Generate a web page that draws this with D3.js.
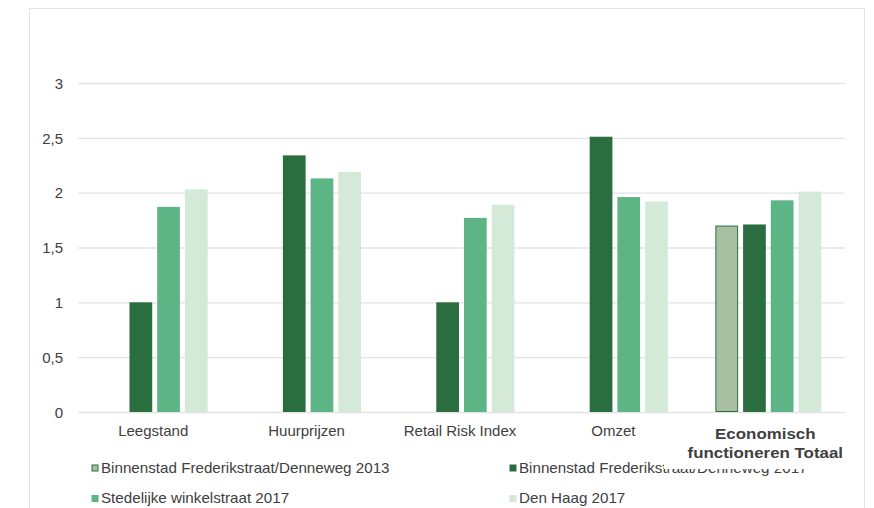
<!DOCTYPE html>
<html>
<head>
<meta charset="utf-8">
<script src="https://cdn.jsdelivr.net/npm/d3@7"></script>
<style>
  body { margin: 0; background: #fff; }
  text { font-family: "Liberation Sans", Arial, sans-serif; fill: #404040; }
</style>
</head>
<body>
<div id="renderer"></div>
<script>
// chart data
var categories = ['Leegstand', 'Huurprijzen', 'Retail Risk Index', 'Omzet', 'Economisch functioneren Totaal'];
var seriesNames = [
    'Binnenstad Frederikstraat/Denneweg 2013',
    'Binnenstad Frederikstraat/Denneweg 2017',
    'Stedelijke winkelstraat 2017',
    'Den Haag 2017'
];
var values2013 = [null, null, null, null, 1.70];
var valuesBinnen2017 = [1.0, 2.34, 1.0, 2.51, 1.71];
var valuesStedelijk2017 = [1.87, 2.13, 1.77, 1.96, 1.93];
var valuesDenHaag2017 = [2.03, 2.19, 1.89, 1.92, 2.01];
var yTicks = [0, 0.5, 1, 1.5, 2, 2.5, 3];

var allValues = [values2013, valuesBinnen2017, valuesStedelijk2017, valuesDenHaag2017];
var colors = ['#a8bfa2', '#2a6e3f', '#5db585', '#d4e9d8'];

var W = 874, H = 508;
var root = d3.select('#renderer').append('svg')
    .attr('width', W)
    .attr('height', H);

// text helper, the original looks a bit stretched sideways
function addText(x, y, str, size, anchor, sx, weight){
    return root.append('text')
        .attr('transform', 'translate(' + x + ',' + y + ') scale(' + sx + ',1)')
        .attr('text-anchor', anchor)
        .attr('font-size', size + 'px')
        .attr('font-weight', weight || 'normal')
        .text(str);
}

// chart border
root.append('rect')
    .attr('x', 29.5).attr('y', 8.5)
    .attr('width', 835).attr('height', 520)
    .attr('fill', 'none')
    .attr('stroke', '#e3e3e3')
    .attr('stroke-width', 1);

var plotLeft = 78, plotRight = 845, plotTop = 83, plotBottom = 412;

var y = d3.scaleLinear().domain([0, 3]).range([plotBottom, plotTop]);
var x0 = d3.scaleBand().domain(categories).range([plotLeft, plotRight])
    .paddingInner(0.31).paddingOuter(0.155);
var x1 = d3.scaleBand().domain(d3.range(seriesNames.length)).range([0, x0.bandwidth()])
    .paddingInner(0.18);

// gridlines + y labels
var yAxis = d3.axisLeft(y).tickValues(yTicks)
    .tickSize(-(plotRight - plotLeft))
    .tickPadding(15)
    .tickFormat(function(d){ return String(d).replace('.', ','); });

var gy = root.append('g').attr('transform', 'translate(' + plotLeft + ',0)').call(yAxis);
gy.select('.domain').remove();
gy.selectAll('line').attr('stroke', '#e3e3e3').attr('stroke-width', 1.3);
gy.selectAll('text').attr('font-size', '15px').attr('fill', '#404040')
    .attr('dy', '0.35em')
    .style('font-family', '"Liberation Sans", Arial, sans-serif');

// bars
for (var s = 0; s < allValues.length; s++) {
    for (var i = 0; i < categories.length; i++) {
        var v = allValues[s][i];
        if (v === null) continue;
        var r = root.append('rect')
            .attr('x', x0(categories[i]) + x1(s))
            .attr('y', y(v))
            .attr('width', x1.bandwidth())
            .attr('height', y(0) - y(v))
            .attr('fill', colors[s]);
        if (s === 0) {
            r.attr('stroke', '#2a6e3f').attr('stroke-width', 1)
                .attr('x', x0(categories[i]) + x1(s) + 0.5)
                .attr('y', y(v) + 0.5)
                .attr('width', x1.bandwidth() - 1)
                .attr('height', y(0) - y(v) - 1);
        }
    }
}

// legend (drawn before the bold label, which covers part of it)
var legendPos = [[91.5, 472.5], [509.5, 472.5], [91.5, 503], [509.5, 503]];
for (var k = 0; k < seriesNames.length; k++) {
    var lx = legendPos[k][0], ly = legendPos[k][1];
    var sq = root.append('rect')
        .attr('x', lx).attr('y', ly - 8)
        .attr('width', 7).attr('height', 7)
        .attr('fill', colors[k]);
    if (k === 0) sq.attr('stroke', '#2a6e3f').attr('stroke-width', 1)
        .attr('x', lx + 0.5).attr('y', ly - 7.5).attr('width', 6).attr('height', 6);
    addText(lx + 9.5, ly, seriesNames[k], 14, 'start', 1.085);
}

// x labels
for (var c = 0; c < categories.length - 1; c++) {
    addText(x0(categories[c]) + x0.bandwidth() / 2 - 1.5, 436, categories[c], 15, 'middle', 1);
}

root.append('rect')
    .attr('x', 664).attr('y', 418)
    .attr('width', 199).attr('height', 51)
    .attr('fill', '#fff');
var lastX = x0(categories[4]) + x0.bandwidth() / 2 - 3;
addText(lastX, 438.5, 'Economisch', 15.5, 'middle', 1.09, 'bold');
addText(lastX, 458, 'functioneren Totaal', 15.5, 'middle', 1.09, 'bold');
</script>
</body>
</html>
